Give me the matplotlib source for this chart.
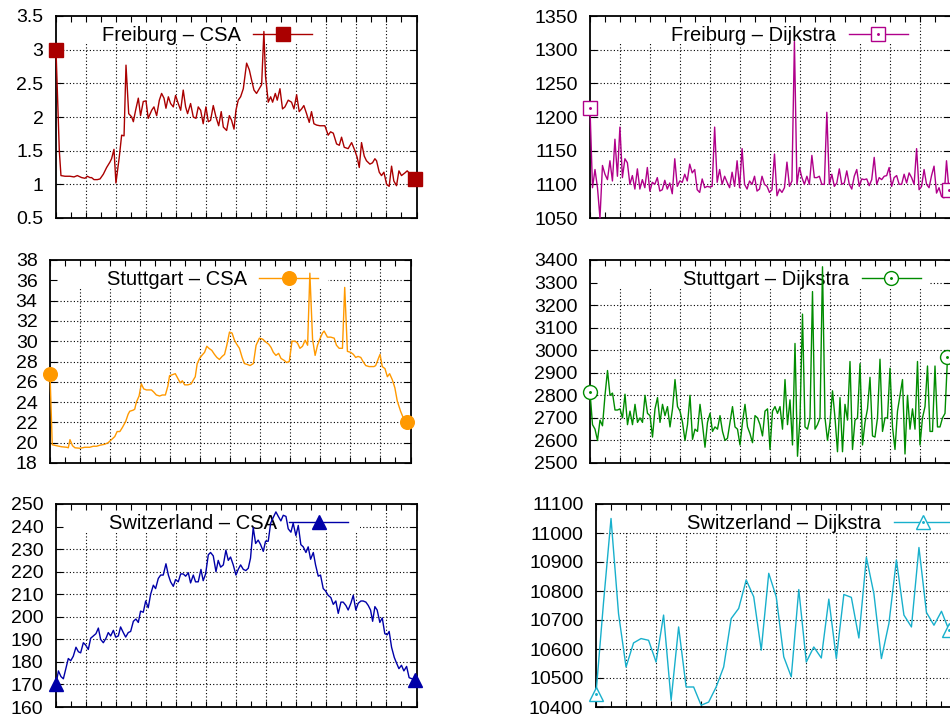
import numpy as np
import matplotlib
matplotlib.use('Agg')
import matplotlib.pyplot as plt
from matplotlib.patches import Rectangle
from matplotlib.ticker import MultipleLocator, FormatStrFormatter

plt.rcParams['font.family'] = ['Liberation Sans', 'DejaVu Sans']

# ---- data (hours of the day) ----
fr_csa_t = [0.00, 0.22, 0.33, 0.60, 0.93, 1.20, 1.42, 1.71, 1.93, 2.09,
            2.26, 2.37, 2.53, 2.75, 2.93, 3.15, 3.37, 3.59, 3.70, 3.86,
            3.99, 4.21, 4.37, 4.53, 4.66, 4.84, 5.04, 5.15, 5.30, 5.48,
            5.63, 5.81, 5.99, 6.14, 6.37, 6.52, 6.70, 6.88, 7.03, 7.19,
            7.32, 7.48, 7.63, 7.81, 7.96, 8.14, 8.30, 8.47, 8.63, 8.76,
            8.96, 9.14, 9.32, 9.47, 9.63, 9.80, 9.98, 10.14, 10.29, 10.47,
            10.65, 10.83, 11.00, 11.14, 11.36, 11.54, 11.69, 11.85, 11.98, 12.13,
            12.29, 12.47, 12.69, 12.87, 13.02, 13.18, 13.35, 13.53, 13.69, 13.84,
            13.95, 14.13, 14.29, 14.42, 14.60, 14.73, 14.91, 15.08, 15.24, 15.46,
            15.68, 15.84, 16.02, 16.19, 16.35, 16.50, 16.68, 16.86, 17.01, 17.17,
            17.35, 17.57, 17.90, 18.12, 18.28, 18.46, 18.68, 18.86, 19.01, 19.19,
            19.45, 19.68, 19.90, 20.05, 20.19, 20.34, 20.52, 20.67, 20.90, 21.07,
            21.23, 21.34, 21.52, 21.67, 21.83, 22.01, 22.18, 22.34, 22.49, 22.67,
            22.83, 23.00, 23.23, 23.38, 23.90]
fr_csa_v = [3.00, 1.50, 1.13, 1.12, 1.12, 1.11, 1.13, 1.10, 1.09, 1.12,
            1.10, 1.10, 1.07, 1.07, 1.08, 1.15, 1.25, 1.33, 1.38, 1.52,
            1.02, 1.40, 1.73, 1.72, 2.77, 2.05, 2.00, 1.93, 2.10, 2.28,
            2.02, 2.23, 2.24, 1.98, 2.10, 2.15, 2.02, 2.25, 2.35, 2.28,
            2.13, 2.30, 2.20, 2.15, 2.32, 2.20, 2.10, 2.40, 2.15, 2.05,
            2.20, 2.00, 1.98, 2.15, 2.10, 1.90, 2.15, 1.93, 1.95, 2.17,
            2.00, 1.87, 2.08, 1.85, 1.80, 2.02, 1.95, 1.82, 2.10, 2.25,
            2.30, 2.42, 2.80, 2.70, 2.55, 2.40, 2.35, 2.42, 2.48, 3.27,
            2.60, 2.22, 2.30, 2.22, 2.35, 2.25, 2.42, 2.12, 2.15, 2.25,
            2.22, 2.12, 2.33, 2.08, 2.12, 2.17, 2.05, 1.92, 2.08, 1.90,
            1.88, 1.87, 1.87, 1.73, 1.78, 1.76, 1.60, 1.58, 1.70, 1.55,
            1.53, 1.62, 1.50, 1.40, 1.25, 1.62, 1.42, 1.35, 1.30, 1.32,
            1.38, 1.35, 1.18, 1.13, 1.18, 1.00, 0.97, 1.27, 1.05, 0.98,
            1.20, 1.13, 1.17, 1.20, 1.08]

# Dijkstra runs are sampled every ~10 minutes
fr_dij_end = 23.9
fr_dij_v = [1213, 1095, 1122, 1095, 1050, 1128, 1115, 1107, 1135, 1105,
            1167, 1112, 1185, 1110, 1138, 1132, 1100, 1113, 1093, 1123,
            1093, 1107, 1095, 1125, 1090, 1103, 1100, 1110, 1090, 1092,
            1106, 1093, 1102, 1086, 1138, 1097, 1105, 1103, 1115, 1105,
            1130, 1117, 1122, 1092, 1088, 1108, 1095, 1097, 1096, 1097,
            1185, 1103, 1122, 1100, 1112, 1103, 1095, 1118, 1097, 1135,
            1095, 1153, 1100, 1093, 1105, 1100, 1112, 1090, 1093, 1112,
            1100, 1097, 1088, 1092, 1145, 1083, 1093, 1088, 1095, 1133,
            1097, 1105, 1312, 1100, 1125, 1110, 1100, 1112, 1100, 1143,
            1110, 1110, 1112, 1100, 1100, 1207, 1100, 1115, 1097, 1102,
            1123, 1100, 1102, 1120, 1100, 1093, 1112, 1122, 1097, 1108,
            1107, 1108, 1098, 1107, 1140, 1100, 1110, 1107, 1112, 1113,
            1125, 1097, 1110, 1113, 1100, 1100, 1115, 1102, 1117, 1110,
            1100, 1153, 1092, 1097, 1122, 1100, 1095, 1113, 1127, 1087,
            1095, 1082, 1080, 1135, 1091]

st_csa_t = [0.00, 0.15, 0.44, 0.77, 1.11, 1.22, 1.33, 1.50, 1.66, 2.00,
            2.32, 2.65, 2.88, 3.10, 3.32, 3.65, 3.87, 4.09, 4.31, 4.47,
            4.65, 4.82, 5.04, 5.20, 5.31, 5.53, 5.64, 5.75, 5.93, 6.08,
            6.24, 6.42, 6.75, 6.90, 7.08, 7.30, 7.48, 7.68, 7.85, 7.96,
            8.14, 8.34, 8.52, 8.67, 8.81, 8.96, 9.18, 9.40, 9.51, 9.67,
            9.80, 9.96, 10.11, 10.29, 10.44, 10.58, 10.77, 10.95, 11.11, 11.28,
            11.46, 11.62, 11.77, 11.95, 12.12, 12.28, 12.43, 12.61, 12.79, 12.94,
            13.16, 13.32, 13.54, 13.72, 13.94, 14.16, 14.38, 14.56, 14.71, 14.87,
            15.04, 15.22, 15.38, 15.60, 15.75, 15.93, 16.11, 16.33, 16.48, 16.64,
            16.81, 16.99, 17.15, 17.30, 17.48, 17.65, 17.81, 17.96, 18.14, 18.25,
            18.47, 18.69, 18.92, 19.07, 19.25, 19.47, 19.62, 19.80, 20.02, 20.20,
            20.35, 20.51, 20.69, 20.84, 21.02, 21.24, 21.57, 21.68, 21.97, 22.12,
            22.30, 22.46, 22.61, 22.79, 22.96, 23.12, 23.34, 23.56, 23.78]
st_csa_v = [26.8, 19.8, 19.7, 19.6, 19.55, 19.5, 20.3, 19.7, 19.5, 19.45,
            19.55, 19.55, 19.65, 19.65, 19.75, 19.85, 20.0, 20.3, 20.6, 21.1,
            21.1, 21.5, 22.1, 22.8, 23.1, 23.2, 23.3, 24.0, 24.6, 25.8,
            25.3, 25.2, 25.2, 25.0, 24.7, 24.6, 24.7, 24.7, 25.6, 26.6,
            26.7, 26.8, 26.3, 25.9, 26.1, 25.7, 25.7, 25.8, 26.1, 26.5,
            27.8, 28.3, 28.6, 28.9, 29.5, 29.3, 29.1, 28.7, 28.4, 28.2,
            28.5, 28.7, 29.6, 30.9, 30.8, 30.1, 29.7, 29.3, 28.4, 27.8,
            27.7, 27.6, 27.8, 29.6, 30.3, 30.2, 29.9, 29.7, 29.4, 28.9,
            28.6, 28.8, 28.3, 28.1, 27.9, 28.0, 30.0, 30.0, 29.8, 29.3,
            29.5, 30.1, 29.6, 36.7, 30.2, 28.6, 29.6, 30.2, 30.8, 31.0,
            30.4, 30.4, 30.3, 29.6, 29.3, 29.3, 35.3, 29.0, 28.9, 28.7,
            28.4, 28.5, 28.4, 28.0, 27.6, 27.5, 27.5, 27.6, 28.7, 27.5,
            27.3, 26.5, 26.8, 26.2, 25.4, 24.1, 23.1, 22.3, 22.0]

st_dij_end = 23.8
st_dij_v = [2815, 2670, 2650, 2600, 2690, 2665, 2800, 2910, 2800, 2810,
            2735, 2735, 2740, 2700, 2805, 2670, 2730, 2670, 2760, 2680,
            2700, 2680, 2800, 2720, 2710, 2615, 2740, 2790, 2680, 2760,
            2710, 2750, 2660, 2740, 2870, 2750, 2730, 2680, 2600, 2670,
            2800, 2605, 2650, 2640, 2760, 2670, 2570, 2680, 2720, 2640,
            2660, 2650, 2710, 2640, 2600, 2610, 2680, 2750, 2660, 2650,
            2580, 2680, 2760, 2660, 2630, 2590, 2710, 2700, 2670, 2620,
            2730, 2740, 2560, 2730, 2750, 2720, 2750, 2650, 2870, 2670,
            2780, 2580, 3030, 2530, 2700, 3160, 2660, 2650, 2700, 3260,
            2650, 2670, 2700, 3370, 2700, 2600, 2680, 2820, 2700, 2550,
            2790, 2550, 2760, 2690, 2950, 2560, 2690, 2700, 2940, 2580,
            2680, 2740, 2880, 2620, 2615, 2700, 2960, 2640, 2700, 2700,
            2920, 2660, 2560, 2730, 2800, 2870, 2540, 2800, 2650, 2740,
            2650, 2950, 2580, 2700, 2750, 2930, 2640, 2640, 2930, 2660,
            2660, 2700, 2720, 2968]

ch_csa_t = [0.00, 0.16, 0.33, 0.49, 0.64, 0.82, 0.98, 1.15, 1.33, 1.49,
            1.64, 1.82, 1.97, 2.15, 2.31, 2.48, 2.66, 2.82, 2.97, 3.15,
            3.33, 3.48, 3.64, 3.82, 3.97, 4.15, 4.30, 4.48, 4.64, 4.81,
            4.97, 5.15, 5.32, 5.48, 5.63, 5.81, 5.97, 6.14, 6.30, 6.48,
            6.63, 6.81, 6.97, 7.14, 7.32, 7.48, 7.63, 7.81, 7.96, 8.14,
            8.30, 8.47, 8.63, 8.81, 8.96, 9.14, 9.29, 9.47, 9.65, 9.80,
            9.96, 10.14, 10.29, 10.47, 10.65, 10.80, 10.96, 11.14, 11.31, 11.47,
            11.62, 11.80, 11.98, 12.13, 12.29, 12.47, 12.64, 12.80, 12.95, 13.13,
            13.29, 13.46, 13.62, 13.80, 13.95, 14.13, 14.29, 14.46, 14.64, 14.80,
            14.97, 15.13, 15.31, 15.46, 15.64, 15.79, 15.97, 16.13, 16.30, 16.46,
            16.64, 16.79, 16.95, 17.13, 17.28, 17.46, 17.61, 17.79, 17.94, 18.12,
            18.30, 18.46, 18.63, 18.79, 18.97, 19.12, 19.30, 19.45, 19.63, 19.79,
            19.96, 20.12, 20.30, 20.45, 20.63, 20.79, 20.94, 21.08, 21.23, 21.38,
            21.56, 21.72, 21.89, 22.05, 22.18, 22.34, 22.52, 22.67, 22.83, 23.00,
            23.16, 23.34, 23.51, 23.90]
ch_csa_v = [170, 176, 173.5, 172.5, 176.5, 181.5, 180.5, 182.5, 186.5, 184.5,
            184, 188.5, 187.5, 185.5, 190.5, 191.5, 192.5, 195, 190, 188.5,
            190.5, 193, 191.5, 194, 191, 191.5, 195.5, 193, 191, 193,
            193.5, 198, 199, 197.5, 202.5, 202, 207, 204, 210, 214,
            212.5, 217, 218.5, 218.5, 223.5, 218.5, 215.5, 213.5, 216.5, 215.5,
            219, 219, 218, 219.5, 215, 218.5, 215.5, 215.5, 221, 216,
            219, 227.5, 228.5, 227, 220, 225, 222, 223, 229.5, 225,
            226.5, 223, 218.5, 221, 223, 221, 220.5, 221.5, 226, 239.5,
            232.5, 234, 232, 229, 233.5, 233.5, 241.5, 244, 246.5, 244.5,
            242.5, 245, 244.5, 239, 237.5, 241.5, 236, 240.5, 232, 231,
            228.5, 231, 225.5, 228.5, 223, 218, 218.5, 212.5, 211.5, 209.5,
            208.5, 205.5, 207, 201.5, 206.5, 206.5, 205, 203, 206, 209.5,
            203, 206, 207, 207, 206.5, 205, 203, 198, 204.5, 203,
            197.5, 199.5, 192.5, 192, 193.5, 186.5, 182, 179.5, 177, 178.5,
            176, 178, 173, 172]

# half-hourly samples, 0:00 .. 23:30
ch_dij_end = 23.5
ch_dij_v = [10446, 10760, 11050, 10722, 10538, 10621, 10636, 10630, 10555, 10717,
            10423, 10676, 10469, 10469, 10406, 10417, 10469, 10538, 10705, 10740,
            10838, 10780, 10596, 10861, 10780, 10573, 10504, 10805, 10555, 10607,
            10569, 10772, 10567, 10788, 10778, 10638, 10916, 10791, 10567, 10688,
            10907, 10717, 10676, 10950, 10726, 10682, 10730, 10665]

labels = ['Freiburg – CSA', 'Freiburg – Dijkstra',
          'Stuttgart – CSA', 'Stuttgart – Dijkstra',
          'Switzerland – CSA', 'Switzerland – Dijkstra']
yticks = [np.arange(0.5, 3.51, 0.5), np.arange(1050, 1351, 50),
          np.arange(18, 39, 2), np.arange(2500, 3401, 100),
          np.arange(160, 251, 10), np.arange(10400, 11101, 100)]

series = [(fr_csa_t, fr_csa_v),
          (np.linspace(0, fr_dij_end, len(fr_dij_v)), fr_dij_v),
          (st_csa_t, st_csa_v),
          (np.linspace(0, st_dij_end, len(st_dij_v)), st_dij_v),
          (ch_csa_t, ch_csa_v),
          (np.linspace(0, ch_dij_end, len(ch_dij_v)), ch_dij_v)]

# ---- styling / layout ----
W, H = 950, 717
# panel boxes in pixels: left, top, right, bottom
boxes = [(56, 16, 416.5, 218), (590, 16, 950.5, 218),
         (50, 260, 410.5, 463), (590, 260, 950.5, 463),
         (56, 504, 416.5, 707), (596, 504, 956.5, 707)]
colors = ['#aa0000', '#b0008a', '#ff9900', '#008c00', '#0000a8', '#18b0cc']
markers = ['s', 's', 'o', 'o', '^', '^']
filled = [True, False, True, False, True, False]
msizes = [10, 10.5, 9.8, 10, 10, 10.5]
key_x = [0.711, 0.881, 0.744, 0.917, 0.811, 0.989]
key_w = [0.735, 0.908, 0.772, 0.944, 0.844, 1.0]

fig = plt.figure(figsize=(W / 100, H / 100), dpi=100)

for i in range(6):
    l, t, r, b = boxes[i]
    ax = fig.add_axes([l / W, 1 - b / H, (r - l) / W, (b - t) / H])
    yt = yticks[i]
    ax.set_xlim(0, 24)
    ax.set_ylim(yt[0], yt[-1])
    ax.xaxis.set_major_locator(MultipleLocator(2))
    ax.xaxis.set_minor_locator(MultipleLocator(1))
    ax.set_yticks(yt)
    ax.yaxis.set_major_formatter(FormatStrFormatter('%g'))
    ax.tick_params(axis='x', which='both', direction='in', top=True, bottom=True,
                   labelbottom=False, length=4.5, width=0.8)
    ax.tick_params(axis='y', direction='in', left=True, right=True,
                   length=5, width=0.8, labelsize=14, pad=9)
    for sp in ax.spines.values():
        sp.set_linewidth(1.3)

    # dotted grid
    for x in ax.get_xticks():
        if 0 < x < 24:
            ax.axvline(x, color='black', lw=0.8, ls=(0, (1, 2)), zorder=0.5)
    for y in yt[1:-1]:
        ax.axhline(y, color='black', lw=0.8, ls=(0, (1, 2)), zorder=0.5)

    # opaque key area
    ax.add_patch(Rectangle((0, 0.86), key_w[i], 0.14, transform=ax.transAxes,
                           facecolor='white', edgecolor='none', zorder=1))

    tt, vv = series[i]
    c = colors[i]
    ends = [0, len(vv) - 1]
    line, = ax.plot(tt, vv, color=c, lw=1.0, marker=markers[i], ms=msizes[i],
                    mfc=c if filled[i] else 'white', mec=c, mew=1.0,
                    markevery=ends, clip_on=False, zorder=3)
    handle = line
    if not filled[i]:
        dot, = ax.plot(tt, vv, ls='none', marker='.', ms=2.2, color=c,
                       markevery=ends, clip_on=False, zorder=3.1)
        handle = (line, dot)

    leg = ax.legend([handle], [labels[i]], loc='center right',
                    bbox_to_anchor=(key_x[i], 0.905), frameon=False,
                    markerfirst=False, handlelength=2.93, handletextpad=0.62,
                    borderpad=0, borderaxespad=0, fontsize=14.5, numpoints=1)
    leg.set_zorder(1.5)

fig.savefig('out.png', dpi=100)
